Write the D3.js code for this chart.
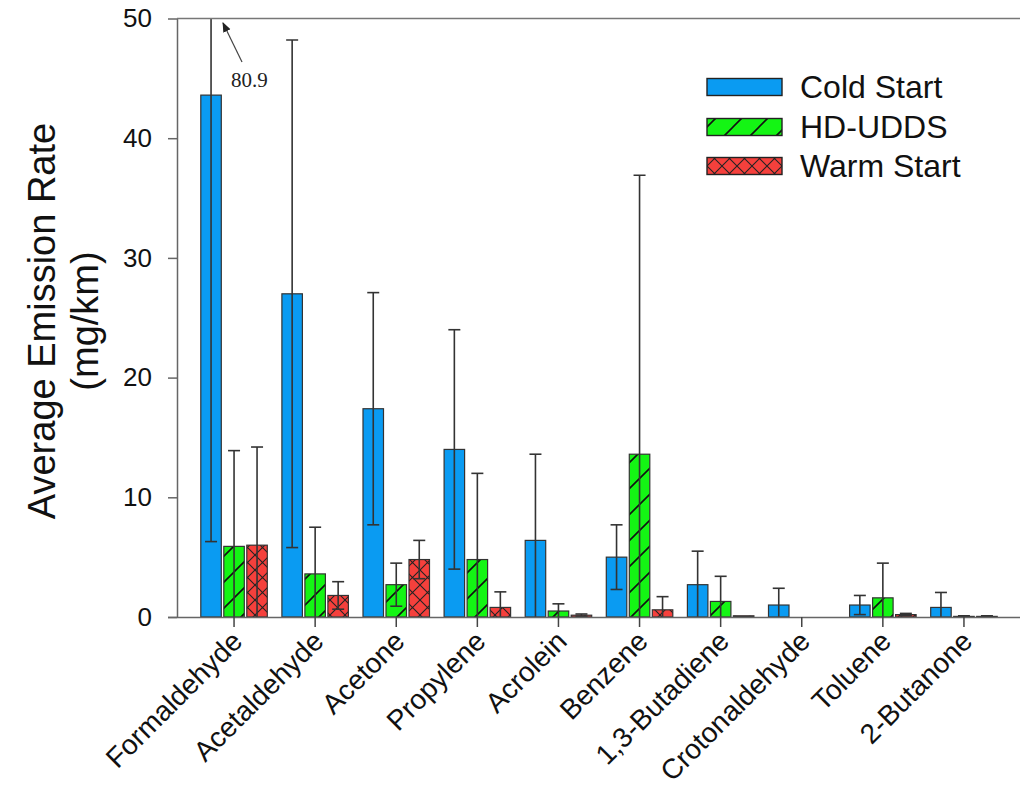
<!DOCTYPE html>
<html>
<head>
<meta charset="utf-8">
<script src="https://cdn.jsdelivr.net/npm/d3@7"></script>
<style>
  html, body { margin: 0; padding: 0; background: #fff; }
  svg { display: block; font-family: "Liberation Sans", Arial, sans-serif; }
</style>
</head>
<body>
<svg id="chart" width="1020" height="789"></svg>
<script>
// Average emission rates (mg/km) by compound and test cycle, with +/- error
const categories = ["Formaldehyde", "Acetaldehyde", "Acetone", "Propylene", "Acrolein",
  "Benzene", "1,3-Butadiene", "Crotonaldehyde", "Toluene", "2-Butanone"];
const seriesNames = ["Cold Start", "HD-UDDS", "Warm Start"];
const coldStart    = [43.6, 27.0, 17.4, 14.0, 6.4, 5.0, 2.7, 1.0, 1.0, 0.8];
const coldStartErr = [37.3, 21.2, 9.7, 10.0, 7.2, 2.7, 2.8, 1.4, 0.8, 1.25];
const hdUdds       = [5.9, 3.6, 2.7, 4.8, 0.5, 13.6, 1.3, 0, 1.6, 0.05];
const hdUddsErr    = [8.0, 3.9, 1.8, 7.2, 0.6, 23.3, 2.1, 0, 2.9, 0.05];
const warmStart    = [6.0, 1.8, 4.8, 0.8, 0.15, 0.6, 0.1, 0, 0.2, 0.05];
const warmStartErr = [8.2, 1.15, 1.6, 1.3, 0.1, 1.1, 0, 0, 0.1, 0.05];
const yTicks = [0, 10, 20, 30, 40, 50];
const offscaleLabel = "80.9";

const values = [coldStart, hdUdds, warmStart];
const errors = [coldStartErr, hdUddsErr, warmStartErr];
const fills = ["#0a9bf2", "#14f514", "#f5403c"];
const patterns = [null, "url(#hatchDiag)", "url(#hatchCross)"];

const svg = d3.select("#chart");
const plotLeft = 177, plotRight = 1020, plotTop = 18.5, plotBottom = 617;

const x = d3.scaleBand().domain(categories).range([193.5, 1004.5]).paddingInner(0).paddingOuter(0);
const y = d3.scaleLinear().domain([0, 50]).range([plotBottom, plotTop]);
const barW = 20.5, step = 23;

// fill patterns and clipping
const defs = svg.append("defs");
const pd = defs.append("pattern").attr("id", "hatchDiag").attr("patternUnits", "userSpaceOnUse")
  .attr("width", 26).attr("height", 26);
pd.append("path").attr("d", "M-2,2 L2,-2 M0,26 L26,0 M24,28 L28,24")
  .attr("stroke", "#111").attr("stroke-width", 1.6);
const pc = defs.append("pattern").attr("id", "hatchCross").attr("patternUnits", "userSpaceOnUse")
  .attr("width", 15).attr("height", 15);
pc.append("path").attr("d", "M0,0 L15,15 M0,15 L15,0")
  .attr("stroke", "#222").attr("stroke-width", 1.1);
defs.append("clipPath").attr("id", "plotClip").append("rect")
  .attr("x", plotLeft).attr("y", plotTop).attr("width", plotRight - plotLeft).attr("height", plotBottom - plotTop);
defs.append("marker").attr("id", "arrowHead").attr("viewBox", "0 0 10 10")
  .attr("refX", 9).attr("refY", 5).attr("markerWidth", 10).attr("markerHeight", 10)
  .attr("markerUnits", "userSpaceOnUse").attr("orient", "auto")
  .append("path").attr("d", "M0,1 L10,5 L0,9 Z").attr("fill", "#222");

const plot = svg.append("g").attr("clip-path", "url(#plotClip)");

// bars
seriesNames.forEach((name, s) => {
  const g = plot.append("g");
  categories.forEach((c, i) => {
    const v = values[s][i];
    if (!(v > 0)) return;
    const cx = x(c) + x.bandwidth() / 2 + (s - 1) * step;
    g.append("rect").attr("x", cx - barW / 2).attr("y", y(v))
      .attr("width", barW).attr("height", y(0) - y(v))
      .attr("fill", fills[s]).attr("stroke", "none");
    if (patterns[s]) {
      g.append("rect").attr("x", cx - barW / 2).attr("y", y(v))
        .attr("width", barW).attr("height", y(0) - y(v))
        .attr("fill", patterns[s]);
    }
    g.append("rect").attr("x", cx - barW / 2).attr("y", y(v))
      .attr("width", barW).attr("height", y(0) - y(v))
      .attr("fill", "none").attr("stroke", "#333").attr("stroke-width", 1.2);
  });
});

// error bars
seriesNames.forEach((name, s) => {
  const g = plot.append("g").attr("stroke", "#333").attr("stroke-width", 1.6);
  categories.forEach((c, i) => {
    const v = values[s][i], e = errors[s][i];
    if (!(v > 0) || !(e > 0)) return;
    const cx = x(c) + x.bandwidth() / 2 + (s - 1) * step;
    const hi = v + e, lo = Math.max(0, v - e);
    g.append("line").attr("x1", cx).attr("x2", cx).attr("y1", y(hi)).attr("y2", y(lo));
    g.append("line").attr("x1", cx - 6).attr("x2", cx + 6).attr("y1", y(hi)).attr("y2", y(hi));
    if (v - e > 0) {
      g.append("line").attr("x1", cx - 6).attr("x2", cx + 6).attr("y1", y(lo)).attr("y2", y(lo));
    }
  });
});

// y axis
const yAxis = svg.append("g").attr("transform", `translate(${plotLeft},0)`)
  .call(d3.axisLeft(y).tickValues(yTicks).tickSize(9).tickPadding(16).tickSizeOuter(0));
yAxis.select(".domain").attr("stroke", "#666").attr("stroke-width", 1.5);
yAxis.selectAll(".tick line").attr("stroke", "#666").attr("stroke-width", 1.5);
yAxis.selectAll(".tick text").attr("font-size", 26).attr("fill", "#111")
  .attr("font-family", "Liberation Sans, Arial, sans-serif");

// x axis
const xAxis = svg.append("g").attr("transform", `translate(0,${plotBottom})`)
  .call(d3.axisBottom(x).tickSize(10).tickSizeOuter(0));
xAxis.select(".domain").attr("d", `M${plotLeft - 9},0.5H${plotRight}`).attr("stroke", "#666").attr("stroke-width", 1.5);
xAxis.selectAll(".tick line").attr("stroke", "#444").attr("stroke-width", 1.5);
xAxis.selectAll(".tick text")
  .attr("font-size", 28).attr("fill", "#111")
  .attr("font-family", "Liberation Sans, Arial, sans-serif")
  .attr("text-anchor", "end")
  .attr("dy", null).attr("y", null)
  .attr("transform", "translate(10,26) rotate(-45)");

// top frame line
svg.append("line").attr("x1", plotLeft).attr("x2", plotRight).attr("y1", plotTop).attr("y2", plotTop)
  .attr("stroke", "#777").attr("stroke-width", 1.5);

// y title
const title = svg.append("text").attr("transform", "translate(55,321) rotate(-90)")
  .attr("text-anchor", "middle").attr("font-size", 38).attr("fill", "#111")
  .attr("font-family", "Liberation Sans, Arial, sans-serif");
title.append("tspan").attr("x", 0).attr("dy", 0).text("Average Emission Rate");
title.append("tspan").attr("x", 0).attr("dy", 43).text("(mg/km)");

// off-scale annotation for the clipped cold-start error bar
svg.append("line").attr("x1", 242).attr("y1", 62).attr("x2", 223).attr("y2", 23)
  .attr("stroke", "#444").attr("stroke-width", 1.2).attr("marker-end", "url(#arrowHead)");
svg.append("text").attr("x", 231).attr("y", 87).attr("font-size", 21)
  .attr("font-family", "Liberation Serif, Times New Roman, serif").attr("fill", "#222")
  .text(offscaleLabel);

// legend
const legend = svg.append("g").attr("transform", "translate(707,0)");
const legendY = [87, 127, 166];
seriesNames.forEach((name, s) => {
  const g = legend.append("g").attr("transform", `translate(0,${legendY[s]})`);
  g.append("rect").attr("x", 0).attr("y", -8.5).attr("width", 75).attr("height", 17).attr("fill", fills[s]);
  if (patterns[s]) g.append("rect").attr("x", 0).attr("y", -8.5).attr("width", 75).attr("height", 17).attr("fill", patterns[s]);
  g.append("rect").attr("x", 0).attr("y", -8.5).attr("width", 75).attr("height", 17)
    .attr("fill", "none").attr("stroke", "#222").attr("stroke-width", 1.4);
  g.append("text").attr("x", 93).attr("y", 11).attr("font-size", 32).attr("fill", "#111")
    .attr("font-family", "Liberation Sans, Arial, sans-serif").text(name);
});
</script>
</body>
</html>
